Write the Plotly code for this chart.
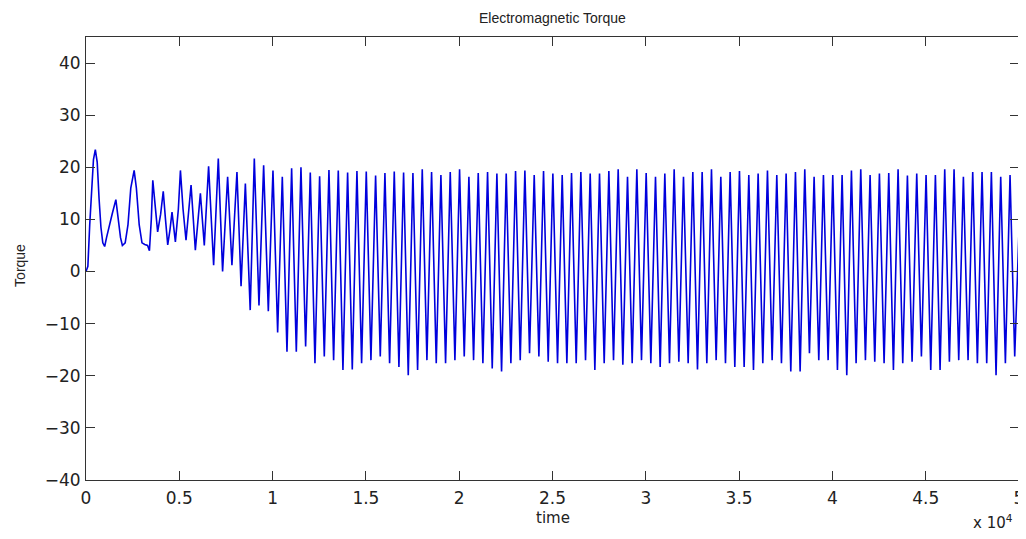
import plotly.graph_objects as go

# ---- data ----
# start-up transient (time, torque)
trans_t = [0, 100, 200, 300, 400, 500, 600, 700, 800, 900, 1000, 1100, 1250, 1400, 1600,
           1750, 1850, 1950, 2100, 2250, 2400, 2580, 2700, 2850, 3000, 3150, 3300, 3400,
           3500, 3580, 3700, 3840, 4000, 4140, 4260, 4380, 4500, 4610, 4790, 4950, 5060,
           5200, 5360, 5500, 5630, 5860, 6130, 6340, 6570, 6840, 7090, 7320, 7590, 7820,
           8090, 8310, 8540, 8800]
trans_v = [0, 1, 9, 16, 21.5, 23.4, 21, 14, 8.5, 5.5, 4.8, 6.5, 8.5, 11, 13.8,
           10, 6.5, 5, 5.5, 9, 16, 19.4, 16, 9, 5.5, 5.2, 5, 4,
           10, 17.5, 13, 7.6, 11, 15.4, 10, 5.1, 8, 11.4, 5.7, 12, 19.4,
           12, 6, 11, 16.6, 4.1, 15, 5.0, 20.2, 1.2, 21.7, 0, 18.2, 1.2,
           19.1, -2.8, 16.9, -7.4]

# steady oscillation: one peak and one trough per cycle
cycle_start = 9020
cycle_len = 500
peak_v = [21.7, 20.4, 19.4, 18.2, 19.8, 20.0, 19.0, 18.3, 19.5, 19.4, 19.0, 19.3, 19.2, 18.4, 18.9, 19.2, 19.0, 18.9,
          19.6, 19.1, 18.5, 19.1, 19.6, 18.2, 18.9, 19.1, 18.8, 18.8, 19.3, 19.4, 18.5, 19.3, 18.8, 18.5, 18.9, 19.1,
          18.8, 18.8, 19.3, 19.6, 18.2, 19.6, 18.9, 18.2, 18.8, 19.6, 18.2, 19.1, 19.1, 19.6, 18.2, 19.1, 19.3, 18.5,
          18.8, 19.4, 18.5, 18.8, 19.1, 19.6, 18.2, 18.5, 18.5, 18.5, 19.4, 19.6, 18.5, 18.8, 18.9, 19.6, 18.4,
          18.8, 18.5, 18.5, 19.6, 19.6, 18.2, 19.1, 19.1, 19.1, 18.2, 18.5]
trough_v = [-6.5, -7.6, -11.7, -15.4, -15.4, -14.4, -17.6, -16.3, -17.0, -18.9, -18.8, -17.6, -17.0, -16.3, -17.6, -18.3, -19.9, -18.9,
            -17.0, -17.6, -17.6, -17.0, -16.3, -17.0, -17.6, -18.6, -19.2, -17.6, -17.0, -15.7, -16.3, -17.3, -17.6, -17.6, -17.6,
            -17.0, -18.9, -17.6, -17.0, -17.9, -17.6, -17.0, -17.6, -18.3, -17.6, -17.3, -17.6, -18.8, -17.6, -17.0, -17.6, -18.3, -18.3,
            -18.9, -17.6, -17.0, -17.6, -19.2, -19.2, -15.7, -17.0, -17.0, -18.9, -19.9, -17.6, -17.0, -17.3, -17.6, -18.9, -17.6, -17.3,
            -16.3, -18.9, -18.9, -17.3, -17.0, -17.0, -17.6, -17.6, -19.9, -17.6, -16.3]
end_t = 50000
end_v = 7.9

x_tickvals = [0, 5000, 10000, 15000, 20000, 25000, 30000, 35000, 40000, 45000, 50000]
x_ticktext = ["0", "0.5", "1", "1.5", "2", "2.5", "3", "3.5", "4", "4.5", "5"]
y_tickvals = [-40, -30, -20, -10, 0, 10, 20, 30, 40]

# ---- assemble the series ----
t = list(trans_t)
v = list(trans_v)
for k, (p, q) in enumerate(zip(peak_v, trough_v)):
    t.append(cycle_start + k * cycle_len)
    v.append(p)
    t.append(cycle_start + k * cycle_len + cycle_len / 2)
    v.append(q)
t.append(end_t)
v.append(end_v)

fig = go.Figure()
fig.add_trace(go.Scatter(x=t, y=v, mode="lines",
                         line=dict(color="#0000dd", width=1.6), showlegend=False))

axis_common = dict(showline=True, linecolor="#333333", linewidth=1, mirror="ticks",
                   ticks="inside", ticklen=9, tickcolor="#333333", tickwidth=1,
                   showgrid=False, zeroline=False, automargin=False,
                   tickfont=dict(family="DejaVu Sans", size=17, color="#222222"))

fig.update_xaxes(range=[0, 50000], tickvals=x_tickvals, ticktext=x_ticktext,
                 ticklabelstandoff=3, ticklabeloverflow="allow", **axis_common)
fig.update_yaxes(range=[-40, 45], tickvals=y_tickvals, ticklabelstandoff=1, **axis_common)

ann_common = dict(xref="paper", yref="paper", showarrow=False, xanchor="center", yanchor="middle")

# the page body adds an 8px offset, so margins are shifted to keep the axes box
# at the reference position
fig.update_layout(
    width=1026, height=539,
    margin=dict(l=78, r=15, t=29, b=67),
    paper_bgcolor="white", plot_bgcolor="white",
    annotations=[
        dict(text="Electromagnetic Torque", x=0.5, y=1.043,
             font=dict(family="Liberation Sans", size=14, color="#222222"), **ann_common),
        dict(text="time", x=0.5, y=-0.086,
             font=dict(family="DejaVu Sans", size=15, color="#222222"), **ann_common),
        dict(text="Torque", x=-0.071, y=0.485, textangle=-90,
             font=dict(family="Liberation Sans", size=14, color="#222222"), **ann_common),
        dict(text="x 10<sup>4</sup>", x=0.972, y=-0.095,
             font=dict(family="DejaVu Sans", size=15, color="#222222"), **ann_common),
    ],
)

fig.write_html("out.html")
